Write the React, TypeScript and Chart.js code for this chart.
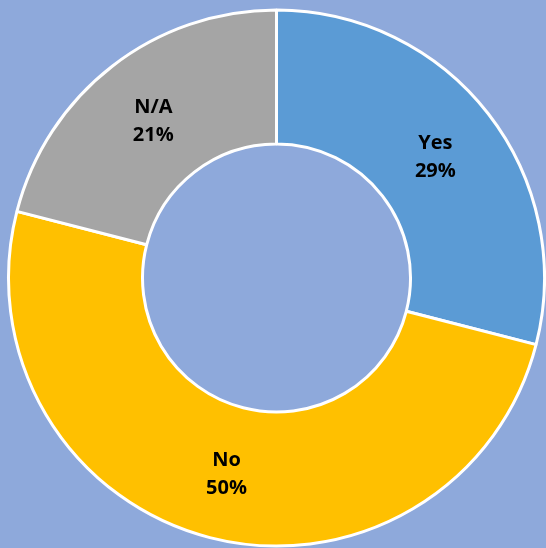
import React, { useEffect, useRef } from "react";
import { Chart, registerables } from "chart.js";

Chart.register(...registerables);

const categories = ["Yes", "No", "N/A"];
const values = [29, 50, 21];
const sliceColors = ["#5B9BD5", "#FFC000", "#A5A5A5"];
const BG = "#8EA9DB";

const labelPlugin = {
  id: "sliceLabels",
  afterDatasetsDraw(chart: any) {
    const ctx = chart.ctx;
    const meta = chart.getDatasetMeta(0);
    ctx.save();
    ctx.font = "bold 20px 'Open Sans'";
    ctx.fillStyle = "#000000";
    ctx.textAlign = "center";
    ctx.textBaseline = "middle";
    meta.data.forEach((arc: any, i: number) => {
      const p = arc.tooltipPosition();
      ctx.fillText(categories[i], p.x, p.y - 12);
      ctx.fillText(values[i] + "%", p.x, p.y + 16);
    });
    ctx.restore();
  },
};

export default function App() {
  const ref = useRef<HTMLCanvasElement>(null);
  useEffect(() => {
    document.body.style.margin = "0";
    document.body.style.background = BG;
    const chart = new Chart(ref.current!, {
      type: "doughnut",
      data: {
        labels: categories,
        datasets: [
          {
            data: values,
            backgroundColor: sliceColors,
            borderColor: "#FFFFFF",
            borderWidth: 3,
          },
        ],
      },
      options: {
        responsive: false,
        animation: false,
        cutout: "50%",
        layout: { padding: { left: 7, right: 0, top: 8, bottom: 0 } },
        plugins: { legend: { display: false }, tooltip: { enabled: false } },
      },
      plugins: [labelPlugin],
    });
    return () => chart.destroy();
  }, []);
  return (
    <div style={{ width: 546, height: 548, background: BG }}>
      <canvas ref={ref} width={546} height={548} style={{ display: "block" }} />
    </div>
  );
}
